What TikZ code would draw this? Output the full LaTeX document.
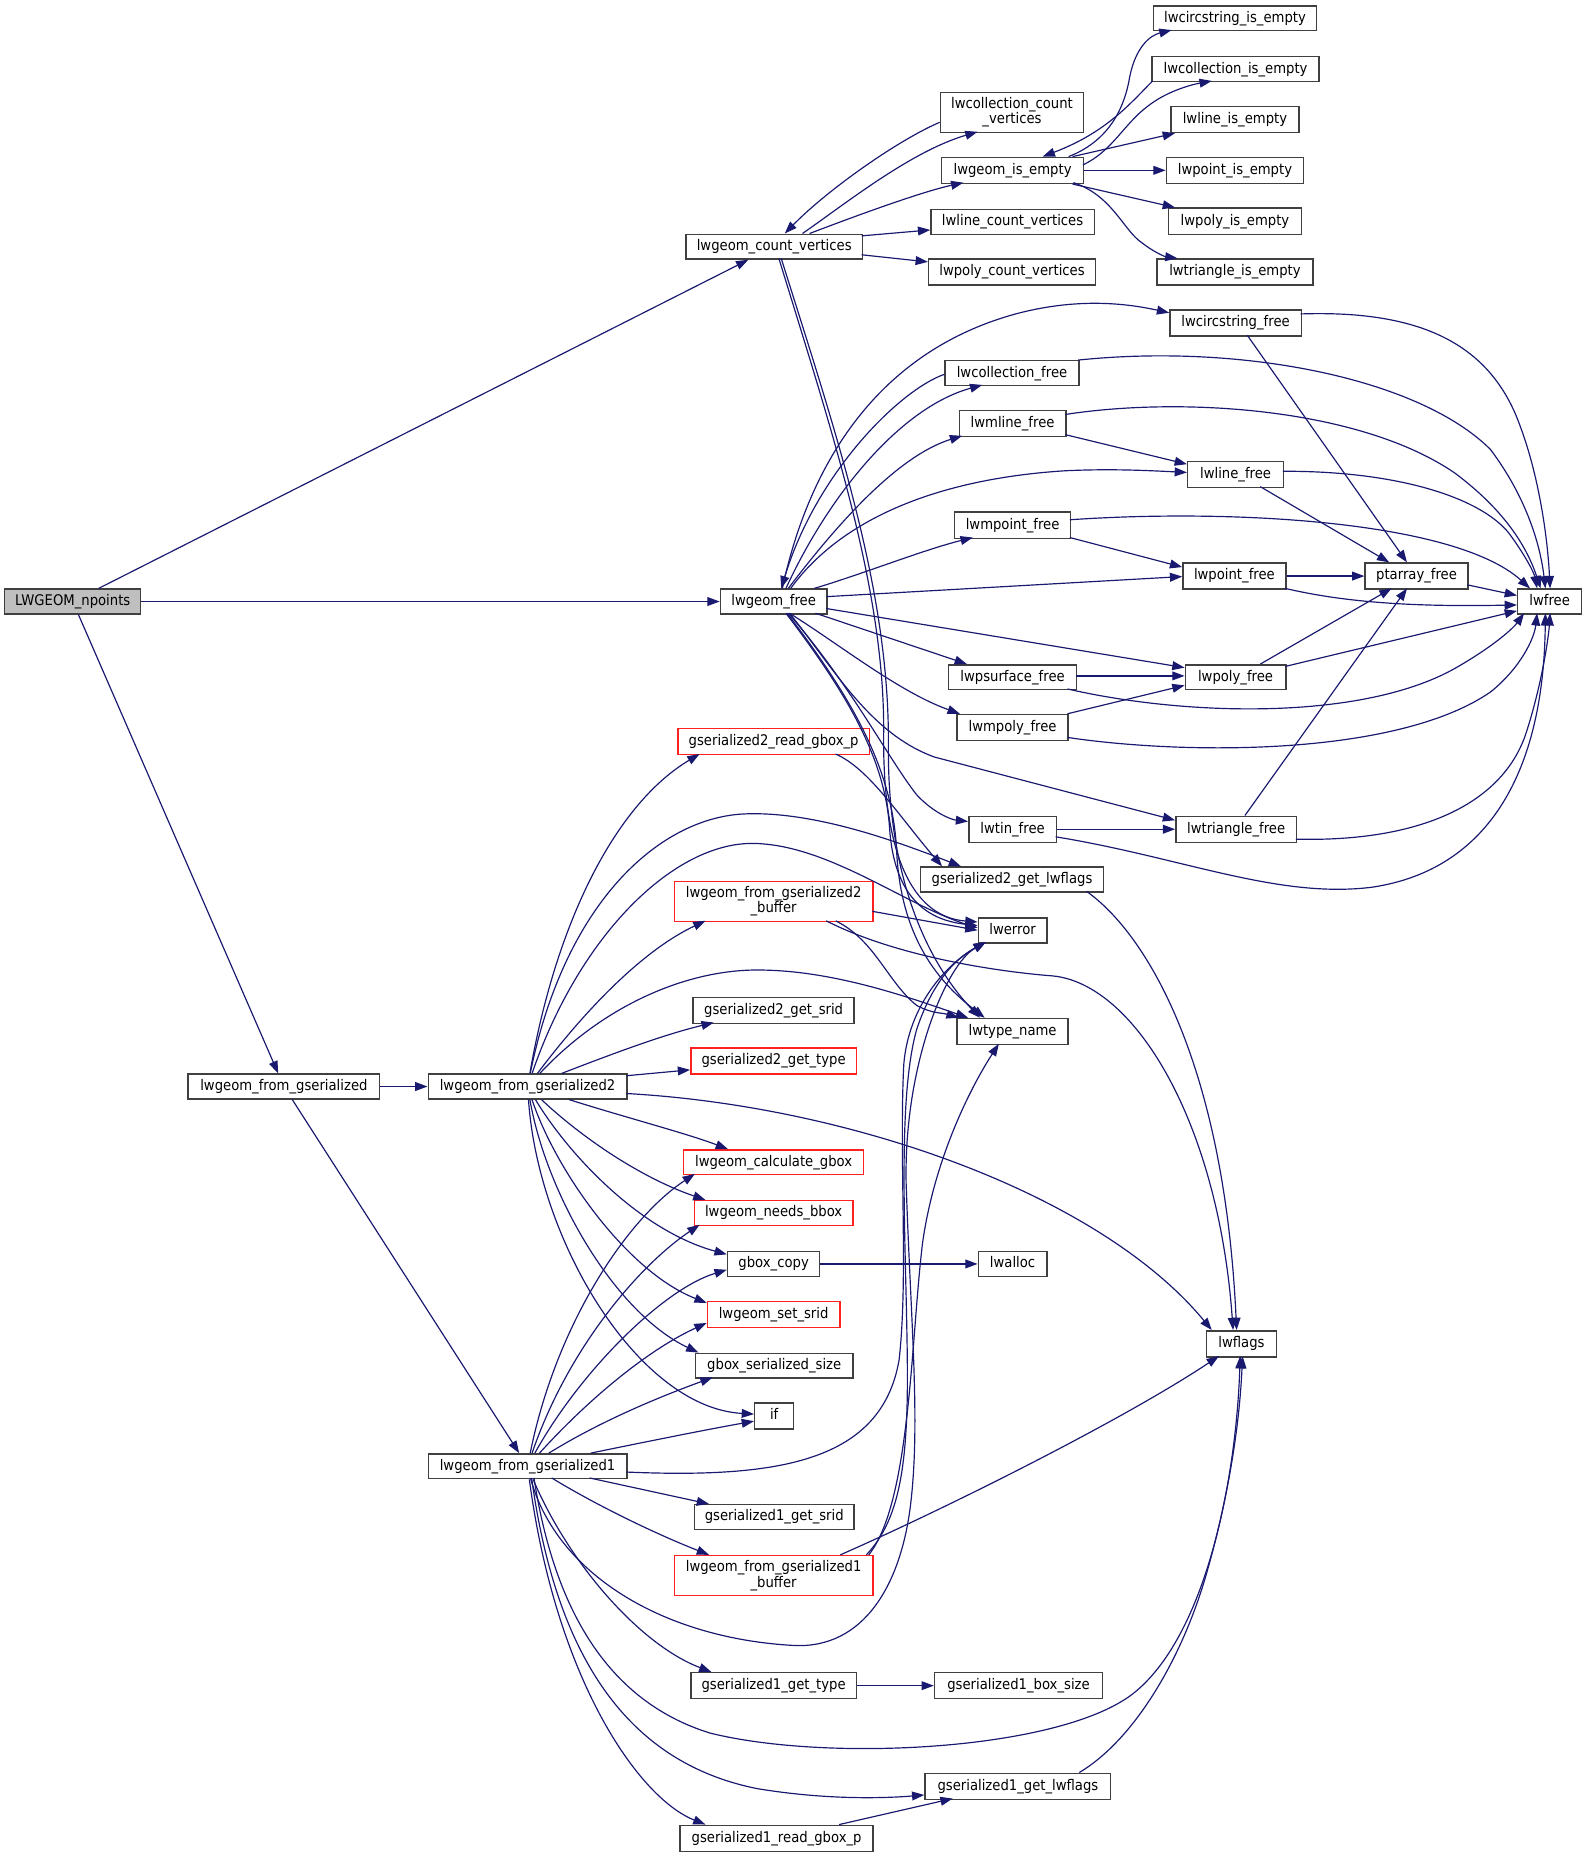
\documentclass[tikz,border=0pt]{standalone}
\usepackage{fontspec}
\setmainfont{DejaVu Sans}[FakeStretch=0.9]
\usetikzlibrary{arrows.meta,calc}
\definecolor{edgec}{HTML}{191970}
\definecolor{boxc}{HTML}{404040}
\definecolor{redc}{HTML}{FF2020}
\definecolor{grayf}{HTML}{BFBFBF}
\tikzset{
  nbox/.style={draw=boxc, line width=0.9pt, inner sep=0pt, align=center,
    font=\fontsize{9.3pt}{9.8pt}\selectfont},
  rbox/.style={draw=redc},
  root/.style={fill=grayf},
  ed/.style={draw=edgec, line width=0.75pt, -{Triangle[length=7.8pt,width=5.6pt]}}
}
\newcommand\nd[7][]{\node[nbox,#1,minimum width={(#4-#3)*0.75pt},minimum height={(#6-#5)*0.75pt}] (#2) at ({(#3+#4)/2},{(#5+#6)/2}) {\vphantom{l\_}#7};}
\begin{document}
\begin{tikzpicture}[x=0.75pt,y=-0.75pt]
\useasboundingbox (0,0) rectangle (1340,1569);
% ---------- nodes
\nd[root]{npoints}{4}{119}{498}{519}{LWGEOM\_npoints}
\nd{cv}{580}{729}{198}{219}{lwgeom\_count\_vertices}
\nd{ccv}{795}{916}{78}{112}{lwcollection\_count\\\_vertices}
\nd{ie}{796}{916}{133}{155}{lwgeom\_is\_empty}
\nd{lcv}{787}{925}{177}{198}{lwline\_count\_vertices}
\nd{pcv}{785}{926}{219}{241}{lwpoly\_count\_vertices}
\nd{cie}{975}{1113}{5}{26}{lwcircstring\_is\_empty}
\nd{coie}{974}{1115}{48}{69}{lwcollection\_is\_empty}
\nd{lie}{990}{1098}{90}{112}{lwline\_is\_empty}
\nd{pie}{986}{1102}{133}{155}{lwpoint\_is\_empty}
\nd{poie}{988}{1100}{176}{198}{lwpoly\_is\_empty}
\nd{tie}{978}{1110}{219}{241}{lwtriangle\_is\_empty}
\nd{csf}{989}{1100}{262}{284}{lwcircstring\_free}
\nd{cf}{799}{912}{305}{326}{lwcollection\_free}
\nd{mlf}{811}{901}{347}{369}{lwmline\_free}
\nd{lf}{1004}{1085}{390}{412}{lwline\_free}
\nd{mpf}{807}{905}{433}{455}{lwmpoint\_free}
\nd{ptf}{1000}{1087}{476}{498}{lwpoint\_free}
\nd{paf}{1154}{1241}{476}{498}{ptarray\_free}
\nd{free}{1283}{1337}{498}{519}{lwfree}
\nd{gf}{609}{699}{498}{519}{lwgeom\_free}
\nd{psf}{802}{910}{562}{583}{lwpsurface\_free}
\nd{plf}{1002}{1087}{562}{583}{lwpoly\_free}
\nd{mpyf}{809}{903}{604}{626}{lwmpoly\_free}
\nd[rbox]{grb2}{573}{735}{616}{638}{gserialized2\_read\_gbox\_p}
\nd{tinf}{819}{893}{690}{712}{lwtin\_free}
\nd{trif}{994}{1096}{690}{712}{lwtriangle\_free}
\nd{glf2}{778}{933}{733}{754}{gserialized2\_get\_lwflags}
\nd[rbox]{buf2}{570}{738}{745}{779}{lwgeom\_from\_gserialized2\\\_buffer}
\nd{err}{827}{885}{776}{797}{lwerror}
\nd{srid2}{586}{722}{843}{865}{gserialized2\_get\_srid}
\nd{tn}{809}{903}{861}{883}{lwtype\_name}
\nd[rbox]{type2}{584}{724}{886}{908}{gserialized2\_get\_type}
\nd{fg}{159}{321}{908}{929}{lwgeom\_from\_gserialized}
\nd{fg2}{362}{530}{908}{929}{lwgeom\_from\_gserialized2}
\nd[rbox]{cgb}{578}{730}{972}{993}{lwgeom\_calculate\_gbox}
\nd[rbox]{nbb}{587}{721}{1015}{1036}{lwgeom\_needs\_bbox}
\nd{gbc}{615}{693}{1058}{1079}{gbox\_copy}
\nd{alloc}{827}{885}{1058}{1079}{lwalloc}
\nd[rbox]{ssrid}{598}{710}{1100}{1122}{lwgeom\_set\_srid}
\nd{flags}{1020}{1079}{1125}{1147}{lwflags}
\nd{gss}{588}{721}{1144}{1165}{gbox\_serialized\_size}
\nd{ifn}{638}{671}{1186}{1208}{if}
\nd{fg1}{362}{530}{1229}{1250}{lwgeom\_from\_gserialized1}
\nd{srid1}{587}{722}{1272}{1293}{gserialized1\_get\_srid}
\nd[rbox]{buf1}{570}{738}{1315}{1349}{lwgeom\_from\_gserialized1\\\_buffer}
\nd{type1}{584}{724}{1414}{1436}{gserialized1\_get\_type}
\nd{bs1}{790}{932}{1414}{1436}{gserialized1\_box\_size}
\nd{glf1}{782}{939}{1499}{1521}{gserialized1\_get\_lwflags}
\nd{grb1}{575}{738}{1543}{1565}{gserialized1\_read\_gbox\_p}
% ---------- LWGEOM_npoints
\draw[ed] (npoints) -- (cv);
\draw[ed] (npoints) -- (gf);
\draw[ed] (npoints) -- (fg);
\draw[ed] (fg) -- (fg2);
\draw[ed] (fg) -- (fg1);
% ---------- count vertices
\draw[ed] ($(cv.north west)+(99,0)$) .. controls (715,172) and (770,128) .. ($(ccv.north west)+(32,34)$);
\draw[ed] ($(ccv.north west)+(0,26)$) .. controls (760,118) and (700,160) .. ($(cv.north west)+(84,0)$);
\draw[ed] ($(cv.north west)+(105,0)$) .. controls (730,180) and (780,162) .. ($(ie.north west)+(19,22)$);
\draw[ed] ($(cv.north west)+(149,2)$) -- ($(lcv.north west)+(0,18)$);
\draw[ed] ($(cv.north west)+(149,18)$) -- ($(pcv.north west)+(0,3)$);
\draw[ed] ($(cv.north west)+(79,21)$) .. controls (705,370) and (748,500) .. (747,620) .. controls (746,720) and (770,775) .. ($(err.north west)+(0,4)$);
\draw[ed] ($(cv.north west)+(81,21)$) .. controls (708,370) and (752,500) .. (751,630) .. controls (750,760) and (795,825) .. ($(tn.north west)+(20,0)$);
% ---------- is_empty
\draw[ed] ($(coie.north west)+(1,21)$) .. controls (955,88) and (935,112) .. ($(ie.north west)+(86,0)$);
\draw[ed] ($(ie.north west)+(108,0)$) .. controls (935,120) and (950,95) .. (955,65) .. controls (960,40) and (972,30) .. ($(cie.north west)+(16,21)$);
\draw[ed] ($(ie.north west)+(120,7)$) .. controls (940,128) and (950,105) .. (970,90) .. controls (985,78) and (1005,72) .. ($(coie.north west)+(51,21)$);
\draw[ed] (ie) -- (lie);
\draw[ed] (ie) -- (pie);
\draw[ed] (ie) -- (poie);
\draw[ed] ($(ie.north west)+(112,22)$) .. controls (940,165) and (950,195) .. (965,205) .. controls (975,213) and (985,217) .. ($(tie.north west)+(18,0)$);
% ---------- lwgeom_free
\draw[ed] ($(cf.north west)+(0,12)$) .. controls (760,330) and (690,400) .. ($(gf.north west)+(52,0)$);
\draw[ed] ($(gf.north west)+(53,0)$) .. controls (680,410) and (730,300) .. (860,265) .. controls (910,252) and (950,256) .. ($(csf.north west)+(0,3)$);
\draw[ed] ($(gf.north west)+(56,0)$) .. controls (700,420) and (760,345) .. ($(cf.north west)+(32,21)$);
\draw[ed] ($(gf.north west)+(58,0)$) .. controls (710,440) and (760,385) .. ($(mlf.north west)+(3,22)$);
\draw[ed] ($(gf.north west)+(60,0)$) .. controls (710,440) and (790,405) .. (900,398) .. controls (940,396) and (975,398) .. ($(lf.north west)+(0,10)$);
\draw[ed] ($(gf.north west)+(80,0)$) .. controls (730,485) and (780,465) .. ($(mpf.north west)+(16,22)$);
\draw[ed] ($(gf.north west)+(90,7)$) -- ($(ptf.north west)+(0,12)$);
\draw[ed] ($(gf.north west)+(90,17)$) -- ($(plf.north west)+(0,3)$);
\draw[ed] ($(gf.north west)+(81,21)$) -- ($(psf.north west)+(16,0)$);
\draw[ed] ($(gf.north west)+(59,21)$) .. controls (710,545) and (760,585) .. ($(mpyf.north west)+(3,0)$);
\draw[ed] ($(gf.north west)+(59,21)$) .. controls (705,565) and (735,620) .. (790,640) -- ($(trif.north west)+(0,4)$);
\draw[ed] ($(gf.north west)+(58,21)$) .. controls (720,580) and (750,640) .. (775,672) .. controls (790,688) and (805,693) .. ($(tinf.north west)+(0,5)$);
\draw[ed] ($(gf.north west)+(56,21)$) .. controls (715,585) and (748,640) .. (752,700) .. controls (756,760) and (785,778) .. ($(err.north west)+(0,7)$);
\draw[ed] ($(gf.north west)+(57,21)$) .. controls (720,590) and (755,650) .. (758,720) .. controls (762,800) and (800,835) .. ($(tn.north west)+(24,0)$);
% ---------- free family
\draw[ed] ($(mlf.north west)+(90,21)$) -- ($(lf.north west)+(0,3)$);
\draw[ed] ($(mlf.north west)+(90,4)$) .. controls (1000,335) and (1150,345) .. (1230,400) .. controls (1270,430) and (1290,460) .. ($(free.north west)+(20,0)$);
\draw[ed] ($(cf.north west)+(113,0)$) .. controls (1050,290) and (1200,320) .. (1260,380) .. controls (1290,420) and (1302,460) .. ($(free.north west)+(24,0)$);
\draw[ed] ($(csf.north west)+(111,4)$) .. controls (1200,262) and (1260,290) .. (1285,360) .. controls (1300,400) and (1308,450) .. ($(free.north west)+(28,0)$);
\draw[ed] ($(csf.north west)+(66,22)$) -- ($(paf.north west)+(36,0)$);
\draw[ed] ($(lf.north west)+(62,22)$) -- ($(paf.north west)+(21,0)$);
\draw[ed] ($(lf.north west)+(81,9)$) .. controls (1180,398) and (1250,420) .. (1275,450) .. controls (1290,470) and (1297,485) .. ($(free.north west)+(17,0)$);
\draw[ed] ($(mpf.north west)+(98,7)$) .. controls (1040,430) and (1230,440) .. ($(free.north west)+(11,0)$);
\draw[ed] ($(mpf.north west)+(98,22)$) -- ($(ptf.north west)+(0,4)$);
\draw[ed] (ptf) -- (paf);
\draw[ed] ($(ptf.north west)+(87,22)$) .. controls (1140,510) and (1200,513) .. ($(free.north west)+(0,14)$);
\draw[ed] ($(paf.north west)+(87,19)$) -- ($(free.north west)+(0,6)$);
\draw[ed] ($(plf.north west)+(64,0)$) -- ($(paf.north west)+(23,22)$);
\draw[ed] ($(plf.north west)+(85,2)$) -- ($(free.north west)+(0,19)$);
\draw[ed] ($(psf.north west)+(108,10)$) -- ($(plf.north west)+(0,10)$);
\draw[ed] ($(mpyf.north west)+(94,0)$) -- ($(plf.north west)+(0,18)$);
\draw[ed] ($(psf.north west)+(101,21)$) .. controls (1000,605) and (1150,610) .. (1230,565) .. controls (1265,545) and (1280,530) .. ($(free.north west)+(6,21)$);
\draw[ed] ($(mpyf.north west)+(94,20)$) .. controls (1000,638) and (1180,640) .. (1260,585) .. controls (1285,565) and (1297,540) .. ($(free.north west)+(17,21)$);
\draw[ed] (tinf) -- (trif);
\draw[ed] ($(tinf.north west)+(74,18)$) .. controls (1000,725) and (1080,760) .. (1160,750) .. controls (1260,735) and (1305,650) .. ($(free.north west)+(24,21)$);
\draw[ed] ($(trif.north west)+(59,0)$) -- ($(paf.north west)+(36,22)$);
\draw[ed] ($(trif.north west)+(102,20)$) .. controls (1200,712) and (1270,680) .. (1290,620) .. controls (1303,580) and (1309,540) .. ($(free.north west)+(28,21)$);
% ---------- lwgeom_from_gserialized2
\draw[ed] (fg2) .. controls (470,780) and (520,680) .. ($(grb2.north west)+(19,22)$);
\draw[ed] (fg2) .. controls (478,760) and (560,690) .. (631,688) .. controls (690,686) and (760,712) .. ($(glf2.north west)+(35,0)$);
\draw[ed] (fg2) .. controls (490,790) and (570,712) .. (637,713) .. controls (700,714) and (765,765) .. ($(err.north west)+(0,9)$);
\draw[ed] (fg2) .. controls (490,860) and (540,805) .. ($(buf2.north west)+(27,34)$);
\draw[ed] (fg2) .. controls (510,850) and (580,820) .. (640,820) .. controls (700,820) and (760,840) .. ($(tn.north west)+(10,0)$);
\draw[ed] (fg2) .. controls (520,890) and (560,875) .. ($(srid2.north west)+(18,22)$);
\draw[ed] ($(fg2.north west)+(168,2)$) -- ($(type2.north west)+(0,19)$);
\draw[ed] ($(fg2.north west)+(168,17)$) .. controls (720,935) and (930,1010) .. ($(flags.north west)+(5,0)$);
\draw[ed] (fg2) .. controls (530,945) and (580,958) .. ($(cgb.north west)+(38,0)$);
\draw[ed] (fg2) .. controls (490,960) and (540,995) .. ($(nbb.north west)+(10,0)$);
\draw[ed] (fg2) .. controls (480,975) and (540,1040) .. ($(gbc.north west)+(0,3)$);
\draw[ed] (fg2) .. controls (470,990) and (530,1075) .. ($(ssrid.north west)+(0,2)$);
\draw[ed] (fg2) .. controls (462,1010) and (520,1110) .. ($(gss.north west)+(3,0)$);
\draw[ed] (fg2) .. controls (455,1050) and (540,1190) .. ($(ifn.north west)+(0,10)$);
\draw[ed] ($(grb2.north west)+(134,22)$) .. controls (735,650) and (760,690) .. ($(glf2.north west)+(19,0)$);
\draw[ed] ($(buf2.north west)+(168,26)$) -- ($(err.north west)+(0,11)$);
\draw[ed] ($(buf2.north west)+(137,34)$) .. controls (740,795) and (750,830) .. (775,850) .. controls (788,857) and (796,856) .. ($(tn.north west)+(2,0)$);
\draw[ed] ($(buf2.north west)+(129,34)$) .. controls (760,810) and (850,822) .. (890,825) .. controls (960,832) and (1030,950) .. ($(flags.north west)+(23,0)$);
\draw[ed] ($(glf2.north west)+(141,21)$) .. controls (970,790) and (1035,900) .. ($(flags.north west)+(26,0)$);
\draw[ed] (gbc) -- (alloc);
% ---------- lwgeom_from_gserialized1
\draw[ed] (fg1) .. controls (470,1120) and (530,1030) .. ($(cgb.north west)+(10,21)$);
\draw[ed] (fg1) .. controls (480,1140) and (540,1070) .. ($(nbb.north west)+(5,21)$);
\draw[ed] (fg1) .. controls (490,1160) and (560,1090) .. ($(gbc.north west)+(0,16)$);
\draw[ed] (fg1) .. controls (500,1180) and (550,1140) .. ($(ssrid.north west)+(0,19)$);
\draw[ed] (fg1) .. controls (510,1200) and (560,1180) .. ($(gss.north west)+(15,21)$);
\draw[ed] ($(fg1.north west)+(138,0)$) .. controls (550,1218) and (600,1208) .. ($(ifn.north west)+(0,16)$);
\draw[ed] ($(fg1.north west)+(168,16)$) .. controls (660,1250) and (745,1235) .. (760,1150) .. controls (768,1080) and (760,980) .. (764,900) .. controls (768,850) and (800,815) .. ($(err.north west)+(7,21)$);
\draw[ed] ($(fg1.north west)+(87,21)$) .. controls (470,1330) and (560,1385) .. (671,1391) .. controls (730,1394) and (762,1340) .. (770,1270) .. controls (778,1200) and (770,1120) .. (766,1000) .. controls (764,900) and (800,815) .. ($(err.north west)+(7,21)$);
\draw[ed] ($(buf1.north west)+(163,0)$) .. controls (760,1285) and (768,1240) .. (767,1150) .. controls (766,1050) and (758,930) .. (775,870) .. controls (790,825) and (812,808) .. ($(err.north west)+(7,21)$);
\draw[ed] ($(buf1.north west)+(165,0)$) .. controls (770,1270) and (770,1130) .. (780,1050) .. controls (790,980) and (820,920) .. ($(tn.north west)+(36,22)$);
\draw[ed] ($(buf1.north west)+(141,0)$) .. controls (800,1275) and (950,1200) .. ($(flags.north west)+(11,22)$);
\draw[ed] ($(fg1.north west)+(137,21)$) -- ($(srid1.north west)+(13,0)$);
\draw[ed] ($(fg1.north west)+(105,21)$) .. controls (500,1270) and (550,1295) .. ($(buf1.north west)+(30,0)$);
\draw[ed] (fg1) .. controls (480,1320) and (540,1390) .. ($(type1.north west)+(18,0)$);
\draw[ed] ($(fg1.north west)+(90,21)$) .. controls (470,1370) and (520,1440) .. (600,1465) .. controls (700,1490) and (900,1480) .. (960,1430) .. controls (1020,1380) and (1045,1250) .. ($(flags.north west)+(29,22)$);
\draw[ed] ($(fg1.north west)+(88,21)$) .. controls (470,1400) and (530,1490) .. (640,1512) .. controls (700,1522) and (750,1520) .. ($(glf1.north west)+(0,19)$);
\draw[ed] (fg1) .. controls (470,1420) and (540,1520) .. ($(grb1.north west)+(22,0)$);
\draw[ed] (type1) -- (bs1);
\draw[ed] ($(grb1.north west)+(135,0)$) -- ($(glf1.north west)+(24,22)$);
\draw[ed] ($(glf1.north west)+(131,0)$) .. controls (960,1470) and (1000,1400) .. (1020,1330) .. controls (1040,1260) and (1048,1200) .. ($(flags.north west)+(31,22)$);
\end{tikzpicture}
\end{document}
